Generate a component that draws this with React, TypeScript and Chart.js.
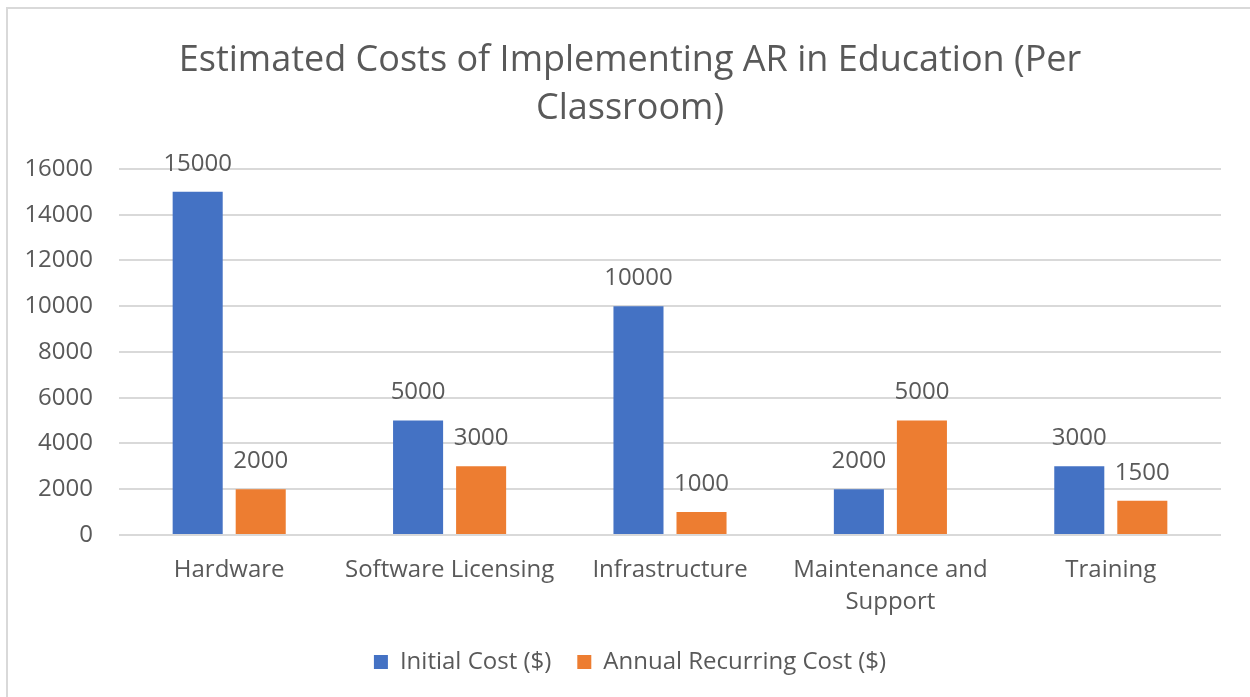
import React, { useEffect, useRef } from "react";
import { Chart, registerables } from "chart.js";

Chart.register(...registerables);

const categories: (string | string[])[] = [
  "Hardware",
  "Software Licensing",
  "Infrastructure",
  ["Maintenance and", "Support"],
  "Training",
];
const initialCost = [15000, 5000, 10000, 2000, 3000];
const annualCost = [2000, 3000, 1000, 5000, 1500];
const titleLines = ["Estimated Costs of Implementing AR in Education (Per", "Classroom)"];
const seriesNames = ["Initial Cost ($)", "Annual Recurring Cost ($)"];

const FONT = "'Open Sans', sans-serif";
const TEXT = "#595959";
const GRID = "#d9d9d9";

const dataLabels = {
  id: "dataLabels",
  afterDatasetsDraw(chart: any) {
    const ctx = chart.ctx;
    ctx.save();
    ctx.font = `24px ${FONT}`;
    ctx.fillStyle = TEXT;
    ctx.textAlign = "center";
    ctx.textBaseline = "middle";
    chart.data.datasets.forEach((ds: any, i: number) => {
      const meta = chart.getDatasetMeta(i);
      meta.data.forEach((el: any, j: number) => {
        ctx.fillText(String(ds.data[j]), el.x, el.y - 28);
      });
    });
    ctx.restore();
  },
};

// Title and legend are centred on the whole chart box (x = 630), not on the canvas.
const centreShift = {
  id: "centreShift",
  afterLayout(chart: any) {
    if (chart.titleBlock) chart.titleBlock.left = 39;
    if (chart.legend) chart.legend.left = 39;
  },
};

export default function App() {
  const ref = useRef<HTMLCanvasElement>(null);
  useEffect(() => {
    if (!ref.current) return;
    const chart = new Chart(ref.current, {
      type: "bar",
      data: {
        labels: categories,
        datasets: [
          { label: seriesNames[0], data: initialCost, backgroundColor: "#4472C4", borderWidth: 0 },
          { label: seriesNames[1], data: annualCost, backgroundColor: "#ED7D31", borderWidth: 0 },
        ],
      },
      options: {
        responsive: false,
        animation: false,
        layout: { padding: { left: 0, right: 29, top: 0, bottom: 13 } },
        datasets: { bar: { categoryPercentage: 0.572, barPercentage: 0.794 } } as any,
        plugins: {
          title: {
            display: true,
            text: titleLines,
            color: TEXT,
            font: { family: FONT, size: 36, weight: "normal", lineHeight: 1.333 },
            padding: { top: 37, bottom: 36 },
          },
          legend: {
            position: "bottom",
            labels: {
              color: TEXT,
              font: { family: FONT, size: 24 },
              boxWidth: 14,
              boxHeight: 14,
              padding: 26,
            },
          },
          tooltip: { enabled: false },
        },
        scales: {
          x: {
            grid: { display: false, drawTicks: false },
            border: { display: false },
            ticks: {
              color: TEXT,
              font: { family: FONT, size: 24, lineHeight: 1.33 },
              padding: 19,
              maxRotation: 0,
              autoSkip: false,
            },
            afterFit(scale: any) {
              scale.height = 89;
            },
          },
          y: {
            min: 0,
            max: 16000,
            grid: { color: GRID, lineWidth: 2, drawTicks: false },
            border: { display: false },
            ticks: {
              stepSize: 2000,
              color: TEXT,
              font: { family: FONT, size: 24 },
              padding: 26,
              callback: (v: any) => String(v),
            },
            afterFit(scale: any) {
              scale.width = 119;
            },
          },
        },
      },
      plugins: [dataLabels, centreShift],
    });
    return () => chart.destroy();
  }, []);

  return (
    <div
      style={{
        position: "fixed",
        left: 0,
        top: 0,
        width: 1250,
        height: 697,
        overflow: "hidden",
        background: "#fff",
      }}
    >
      <div
        style={{
          position: "absolute",
          left: 6,
          top: 7,
          width: 1300,
          height: 800,
          border: `2px solid ${GRID}`,
          boxSizing: "border-box",
        }}
      />
      <canvas
        ref={ref}
        width={1250}
        height={697}
        style={{ position: "absolute", left: 0, top: 0, width: 1250, height: 697 }}
      />
    </div>
  );
}
